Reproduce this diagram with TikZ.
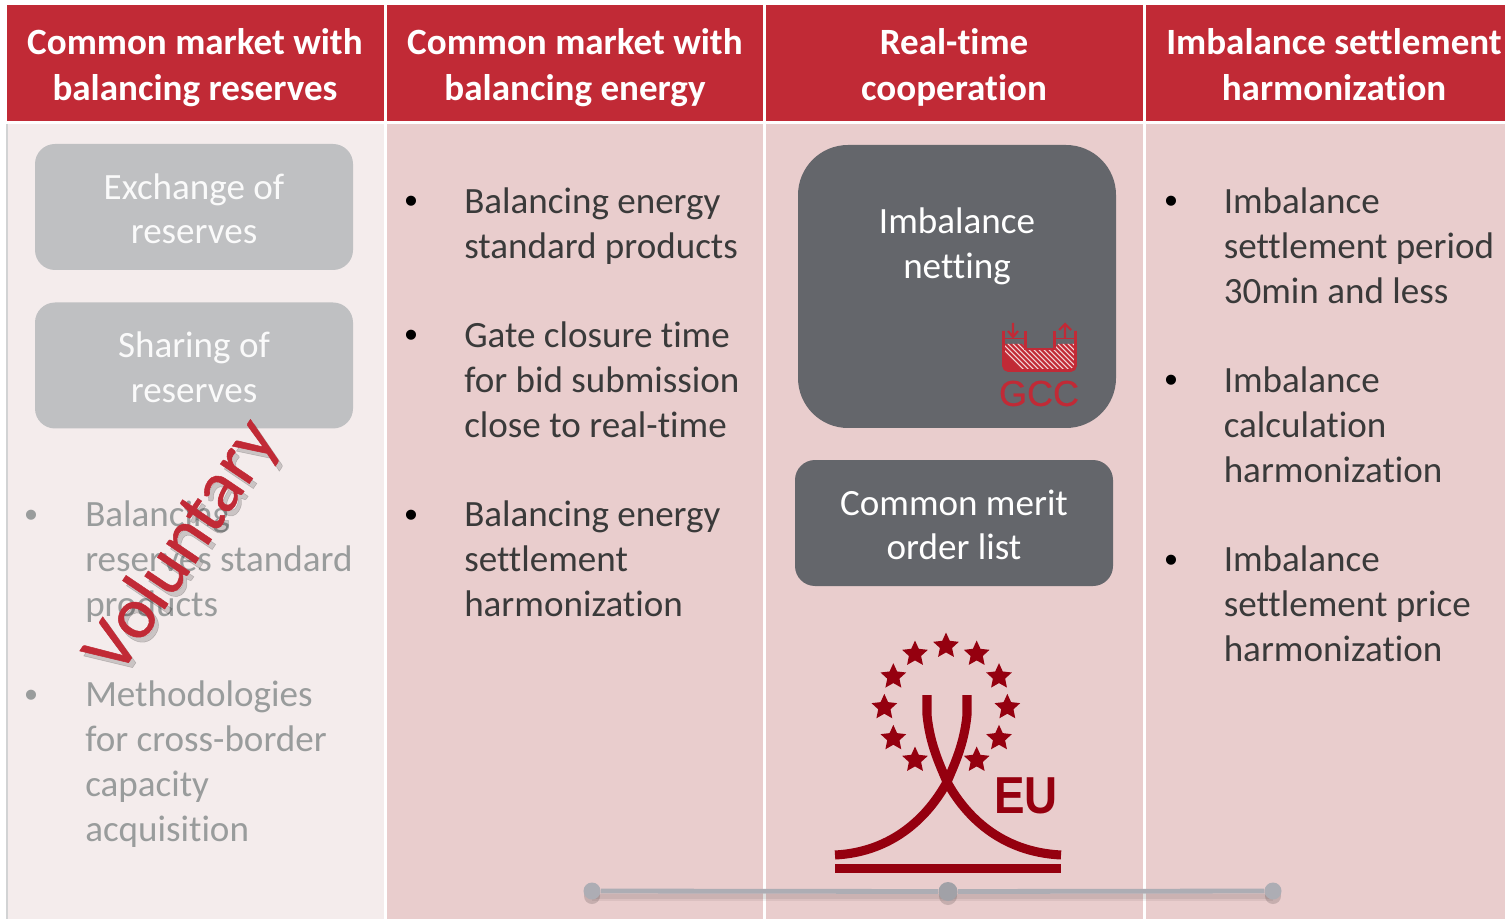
\documentclass[tikz,border=0pt]{standalone}
\usepackage{fontspec}
\setmainfont[Ligatures=NoCommon]{Carlito}
\newfontfamily\logofont{Liberation Sans}
\newfontfamily\gccfont[FakeBold=0.5]{Liberation Sans}
\newfontfamily\volfont[FakeBold=0.7,Ligatures=NoCommon]{Carlito}
\usetikzlibrary{shapes.geometric}
\definecolor{hdr}{HTML}{C12A36}
\definecolor{lightcol}{HTML}{F4ECEC}
\definecolor{pinkcol}{HTML}{E9CDCD}
\definecolor{greybox}{HTML}{BFC0C2}
\definecolor{darkbox}{HTML}{64666B}
\definecolor{fadetxt}{HTML}{999C9C}
\definecolor{bodytxt}{HTML}{3A3A3A}
\definecolor{logored}{HTML}{95000F}
\definecolor{dotgrey}{HTML}{ADADB4}
\def\pxu{0.75pt}
\newcommand{\liftline}{\rule{0pt}{22pt}}
\tikzset{
  x=0.75pt,y=-0.75pt,
  basefont/.style={font=\fontsize{27.8}{33.6}\selectfont},
  header/.style={basefont,font=\fontsize{27.8}{34.4}\selectfont\bfseries,text=white,align=center,inner sep=0pt},
  para/.style={basefont,align=left,anchor=north west,inner sep=0pt,text=bodytxt},
  fadepara/.style={para,text=fadetxt},
  bulletmark/.style={font=\logofont\fontsize{27.8}{33.6}\selectfont,anchor=base,inner sep=0pt,text=black},
  fadebullet/.style={bulletmark,text=fadetxt},
  softbox/.style={rounded corners=20*\pxu,minimum width=318*\pxu,minimum height=126*\pxu,inner sep=0pt,basefont,align=center,text=white},
  lightbox/.style={softbox,fill=greybox,text=white!92!greybox},
  solidbox/.style={softbox,fill=darkbox},
  eustar/.style={star,star points=5,star point ratio=2.1,fill=logored,minimum size=27*\pxu,inner sep=0pt},
  dot/.style={circle,fill=dotgrey,minimum size=17*\pxu,inner sep=0pt},
  volstyle/.style={font=\volfont\fontsize{55}{55}\selectfont,rotate=56,inner sep=0pt},
}
\begin{document}
\begin{tikzpicture}
\useasboundingbox (0,0) rectangle (1505,919);
\fill[white] (0,0) rectangle (1505,919);
% columns
\fill[lightcol] (7,124) rectangle (384,919);
\fill[pinkcol] (387,124) rectangle (763,919);
\fill[pinkcol] (766,124) rectangle (1143,919);
\fill[pinkcol] (1146,124) rectangle (1505,919);
\draw[greybox!70!white,line width=0.8pt] (7,124) -- (7,919);
\fill[hdr] (7,5) rectangle (384,121);
\fill[hdr] (387,5) rectangle (763,121);
\fill[hdr] (766,5) rectangle (1143,121);
\fill[hdr] (1146,5) rectangle (1505,121);
\node[header] (h1) at (195,68) {Common market with\\balancing reserves};
\node[header] (h2) at (575,68) {Common market with\\balancing energy};
\node[header] (h3) at (954,67) {Real-time\\cooperation};
\node[header] (h4) at (1334,65) {Imbalance settlement\\harmonization};
% column 1
\node[lightbox] (b1) at (194,207) {\liftline Exchange of\\reserves};
\node[lightbox] (b2) at (194,365.5) {\liftline Sharing of\\reserves};
\node[fadebullet] (m1) at (31,527) {•};
\node[fadepara] (p1) at (85,495) {\strut Balancing\\reserves standard\\products};
\node[fadebullet] (m2) at (31,707) {•};
\node[fadepara] (p2) at (85,675) {\strut Methodologies\\for cross-border\\capacity\\acquisition};
% column 2
\node[bulletmark] (m3) at (411,214) {•};
\node[para] (p3) at (464,182) {\strut Balancing energy\\standard products};
\node[bulletmark] (m4) at (411,348) {•};
\node[para] (p4) at (464,316) {\strut Gate closure time\\for bid submission\\close to real-time};
\node[bulletmark] (m5) at (411,527) {•};
\node[para] (p5) at (464,495) {\strut Balancing energy\\settlement\\harmonization};
% column 3
\node[solidbox,minimum width=318*\pxu,minimum height=283*\pxu,rounded corners=50*\pxu] (b3) at (957,286.5) {};
\node[basefont,align=center,text=white,inner sep=0pt] (b3t) at (957,246) {Imbalance\\netting};
\node[solidbox] (b4) at (954,523) {\liftline Common merit\\order list};
% GCC icon
\begin{scope}
  \clip (1004,344) -- (1022,344) -- (1028,350) -- (1052,350) -- (1058,344) -- (1075,344) -- (1075,370) -- (1004,370) -- cycle;
  \fill[hdr] (1002,340) rectangle (1077,372);
  \foreach \k in {-5,0,...,90} \draw[white!80!hdr,line width=0.8pt] (995+\k,336) -- (1035+\k,376);
\end{scope}
\draw[hdr,line width=2.2pt,rounded corners=5*\pxu,line join=round]
  (1003.5,331) -- (1003.5,370.5) -- (1075.5,370.5) -- (1075.5,331);
\draw[hdr,line width=2.2pt] (1025.5,331) -- (1025.5,349) -- (1054.5,349) -- (1054.5,331);
\draw[hdr,line width=1.3pt] (1003.5,338.5) -- (1025.5,338.5) (1054.5,338.5) -- (1075.5,338.5);
\draw[hdr,line width=1.6pt] (1013,323) -- (1013,337) (1008,331) -- (1013,337) -- (1018,331);
\draw[hdr,line width=1.6pt] (1065,338) -- (1065,324) (1059,330) -- (1065,324) -- (1071,330);
\node[font=\gccfont\fontsize{27}{27}\selectfont,text=hdr,inner sep=0pt] (gcc) at (1039,393.5) {GCC};
% EU logo
\foreach \i/\a/\b in {1/378/78,2/285/102,3/470/102,4/220/170,5/537/170,6/193/262,7/562/262,8/220/355,9/537/355,10/285/420,11/470/420}
  \node[eustar] (star\i) at ({\a/3+820},{\b/3+620}) {};
\draw[logored,line width=6.8pt] (927,695) -- (927,715) .. controls (930,745) and (940,765) .. (947,782)
  .. controls (965,815) and (1000,852) .. (1061,855);
\draw[logored,line width=6.8pt] (967,695) -- (967,715) .. controls (964,745) and (954,765) .. (947,782)
  .. controls (929,815) and (894,852) .. (835,855);
\fill[logored] (835,864) rectangle (1061,873);
\node[font=\logofont\bfseries\fontsize{39}{39}\selectfont,text=logored,inner sep=0pt,xscale=0.88] (eu) at (1026,796) {EU};
% column 4
\node[bulletmark] (m6) at (1171,214) {•};
\node[para] (p6) at (1223.5,182) {\strut Imbalance\\settlement period\\30min and less};
\node[bulletmark] (m7) at (1171,393) {•};
\node[para] (p7) at (1223.5,361) {\strut Imbalance\\calculation\\harmonization};
\node[bulletmark] (m8) at (1171,572) {•};
\node[para] (p8) at (1223.5,540) {\strut Imbalance\\settlement price\\harmonization};
% voluntary
\node[volstyle,text=black,opacity=0.17] (volshadow) at (187,552) {Voluntary};
\node[volstyle,text=hdr] (vol) at (183,547) {Voluntary};
% timeline
\fill[black,opacity=0.06] (592,892) rectangle (1273,901);
\fill[black,opacity=0.07] (592,894) rectangle (1273,899);
\fill[black,opacity=0.15] (592,896) circle (8);
\fill[black,opacity=0.15] (948,896) circle (9);
\fill[black,opacity=0.15] (1273,896) circle (8);
\node[dot] (d1) at (592,891) {};
\node[dot,minimum size=19*\pxu,fill=dotgrey!93!black] (d2) at (948,891.5) {};
\node[dot] (d3) at (1273,891) {};
\draw[dotgrey,line width=3.6pt] (d1) -- (d2);
\draw[dotgrey,line width=3.6pt] (d2) -- (d3);
\end{tikzpicture}
\end{document}
